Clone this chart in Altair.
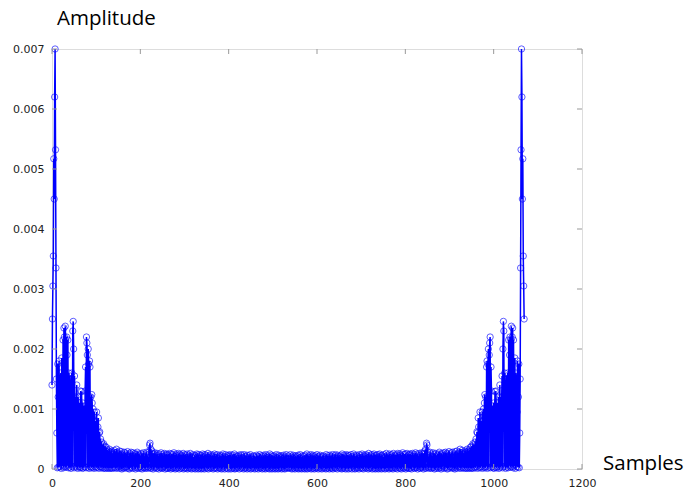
import altair as alt
import pandas as pd

# Amplitude values in units of 1e-5, samples k = 0..535 (first half of the spectrum)
peak_region = [
    140, 250, 305, 355, 517, 450, 620, 700, 532, 335, 150, 60,
    2, 175, 120, 3, 180, 95, 4, 150,
    160, 1, 185, 130, 5, 215, 2, 235, 220, 4,
    238, 215, 3, 220, 190, 6, 215, 2, 160, 150,
    3, 155, 100, 1, 130, 160, 4, 230, 246, 200,
    2, 155, 110, 5, 120, 3, 140, 90, 1, 120,
    100, 4, 110, 2, 95, 130, 3, 129, 80, 1,
    110, 2, 105, 90, 4, 130, 170, 2, 220, 210,
    190, 3, 200, 175, 1, 180, 170, 4, 120, 2,
    124, 110, 3, 100, 80, 1, 95, 4, 80, 70,
    2, 95, 50, 3, 70, 85, 1, 60, 62, 4,
    50, 2, 45, 30, 3, 40, 1, 42, 25, 2,
    38, 1, 30, 36, 2, 32, 28, 1, 30, 3, 33, 1, 28, 18, 2, 30, 1, 26, 24, 2, 28,
]
noise_floor = [
    31, 3, 27, 1, 24, 33, 2, 28, 4, 20, 26, 1, 30, 5, 22, 2, 29, 0, 25, 3,
    18, 1, 28, 3, 23, 27, 2, 25, 4, 19, 29, 1, 21, 16, 0, 26, 2, 24, 28, 3,
    20, 1, 27, 5, 22, 17, 2, 26, 0, 24, 3, 21, 28, 1, 18, 25, 2, 23, 4, 20,
    1, 26, 14, 0, 24, 3, 27, 2, 21, 12, 1, 25, 2, 28, 4, 23, 1, 20, 3, 29,
    40, 43, 2, 33, 1, 30, 4, 26, 0, 21, 25, 2, 27, 3, 19, 23, 1, 26, 2, 22,
    16, 0, 25, 3, 20, 2, 27, 17, 1, 24, 2, 21, 4, 26, 11, 0, 23, 2, 25, 1,
    19, 24, 1, 22, 3, 26, 2, 20, 0, 25, 16, 2, 24, 1, 18, 27, 3, 21, 0, 23,
    2, 25, 1, 19, 22, 3, 26, 0, 17, 24, 2, 21, 1, 23, 18, 3, 26, 0, 20, 2,
    24, 1, 18, 22, 2, 25, 0, 20, 3, 23, 1, 17, 26, 2, 21, 0, 19, 24, 1, 14,
    20, 2, 23, 0, 22, 16, 1, 25, 3, 21, 0, 24, 2, 19, 1, 23, 17, 0, 22, 2,
    25, 1, 18, 21, 0, 24, 3, 16, 23, 1, 20, 2, 26, 0, 19, 22, 2, 17, 24, 1,
    21, 3, 15, 23, 0, 20, 2, 25, 1, 16, 22, 2, 19, 24, 0, 17, 3, 21, 1, 23,
    2, 20, 16, 0, 22, 1, 25, 3, 18, 21, 0, 15, 24, 2, 19, 1, 22, 13, 0, 23,
    17, 2, 21, 24, 0, 16, 20, 1, 23, 3, 18, 1, 25, 0, 19, 2, 22, 15, 1, 21,
    3, 18, 23, 0, 20, 16, 2, 24, 1, 22, 3, 19, 17, 0, 24, 2, 21, 1, 20, 3,
    23, 0, 15, 19, 2, 22, 1, 17, 24, 0, 20, 2, 18, 16, 1, 22, 3, 21, 0, 14,
    19, 1, 23, 2, 16, 21, 0, 20, 3, 24, 1, 18, 2, 22, 15, 0, 20, 2, 23, 1,
    17, 21, 0, 24, 3, 19, 1, 22, 2, 16, 20, 0, 25, 1, 18, 3, 23, 0, 21, 2,
    15, 1, 22, 17, 0, 20, 2, 24, 1, 19, 16, 0, 23, 2, 21, 1, 18, 3, 22, 0,
    20, 2, 17, 23, 1, 19, 0, 21, 3, 24, 1, 18, 16, 2, 22,
]
x_ticks = [0, 200, 400, 600, 800, 1000, 1200]
y_ticks = [0, 0.001, 0.002, 0.003, 0.004, 0.005, 0.006, 0.007]
y_title = ["Amplitude"]
x_title = ["Samples"]

half = peak_region + noise_floor
# magnitude spectrum of a real signal: |X[N-k]| = |X[k]|, N = 1070
full = half + half[1:535][::-1]
df = pd.DataFrame({"sample": list(range(len(full))), "amp": [v * 1e-5 for v in full]})

W, H = 530, 420
BLUE = "#0000ff"
FRAME = "#999999"

xs = alt.Scale(domain=[0, 1200], nice=False, zero=False)
ys = alt.Scale(domain=[0, 0.007], nice=False)

x_axis = alt.Axis(values=x_ticks, title=None, ticks=False, domain=False, grid=False,
                  labelPadding=8, labelFontSize=11, labelFont="DejaVu Sans",
                  labelColor="#222222", labelFlush=False, format="d")
y_axis = alt.Axis(values=y_ticks, title=None, ticks=False, domain=False, grid=False,
                  labelPadding=8, labelFontSize=11, labelFont="DejaVu Sans",
                  labelColor="#222222",
                  labelExpr="datum.value == 0 ? '0' : format(datum.value, '.3f')")

base = alt.Chart(df)
line = base.mark_line(color=BLUE, strokeWidth=1.5).encode(
    x=alt.X("sample:Q", scale=xs, axis=x_axis, title=None),
    y=alt.Y("amp:Q", scale=ys, axis=y_axis, title=None),
    order="sample:Q",
)
pts = base.mark_point(shape="circle", filled=False, color=BLUE, size=40,
                      strokeWidth=0.9, opacity=0.7).encode(
    x=alt.X("sample:Q", scale=xs, axis=x_axis, title=None),
    y=alt.Y("amp:Q", scale=ys, axis=y_axis, title=None),
)

yt = alt.Chart(pd.DataFrame({"v": y_ticks}))
xt = alt.Chart(pd.DataFrame({"v": x_ticks}))
tick_style = dict(color=FRAME, strokeWidth=1)
yv = alt.Y("v:Q", scale=ys, axis=y_axis, title=None)
xv = alt.X("v:Q", scale=xs, axis=x_axis, title=None)
left_t = yt.mark_rule(**tick_style).encode(y=yv, x=alt.value(0), x2=alt.value(5))
right_t = yt.mark_rule(**tick_style).encode(y=yv, x=alt.value(W - 5), x2=alt.value(W))
top_t = xt.mark_rule(**tick_style).encode(x=xv, y=alt.value(0), y2=alt.value(5))
bot_t = xt.mark_rule(**tick_style).encode(x=xv, y=alt.value(H - 5), y2=alt.value(H))

ytitle = alt.Chart(pd.DataFrame({"t": y_title})).mark_text(
    align="left", baseline="alphabetic", font="Open Sans", fontSize=20.5, color="black"
).encode(text="t:N", x=alt.value(5), y=alt.value(-24))
xtitle = alt.Chart(pd.DataFrame({"t": x_title})).mark_text(
    align="left", baseline="alphabetic", font="Open Sans", fontSize=20.5, color="black"
).encode(text="t:N", x=alt.value(551), y=alt.value(421))

chart = alt.layer(line, pts, left_t, right_t, top_t, bot_t, ytitle, xtitle).properties(
    width=W, height=H,
    autosize=alt.AutoSizeParams(type="none"),
    padding={"left": 52, "top": 49, "right": 105, "bottom": 26},
).configure_view(stroke=FRAME, strokeWidth=1).configure(background="white")

chart.save("out.html", embed_options={"renderer": "svg", "actions": False})
